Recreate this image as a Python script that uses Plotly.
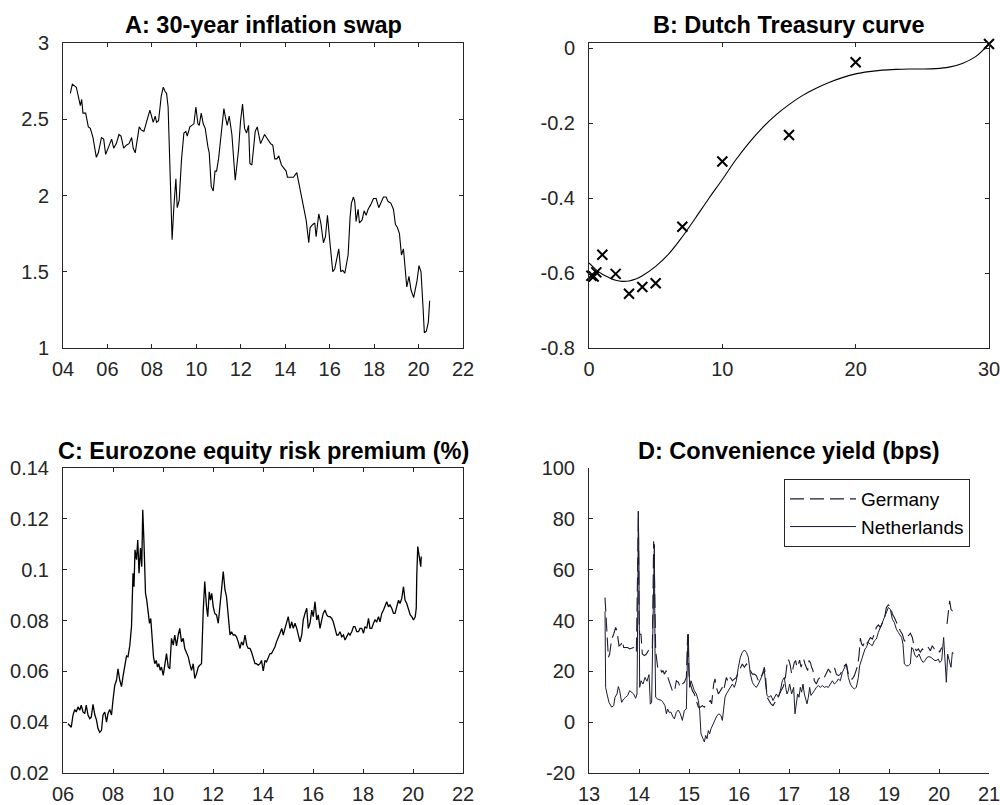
import plotly.graph_objects as go

# ---------------- Panel A: 30-year inflation swap ----------------
a_years = [2004.33, 2004.42, 2004.60, 2004.72, 2004.78, 2004.84, 2004.90, 2005.02, 2005.14, 2005.23,
           2005.35, 2005.50, 2005.59, 2005.73, 2005.83, 2005.92, 2006.04, 2006.19, 2006.28, 2006.40,
           2006.52, 2006.61, 2006.73, 2006.85, 2006.97, 2007.09, 2007.16, 2007.25, 2007.43, 2007.52,
           2007.64, 2007.91, 2008.06, 2008.15, 2008.21, 2008.30, 2008.42, 2008.51, 2008.60, 2008.66,
           2008.73, 2008.81, 2008.91, 2008.99, 2009.08, 2009.14, 2009.23, 2009.33, 2009.44, 2009.53,
           2009.59, 2009.71, 2009.83, 2009.89, 2009.98, 2010.07, 2010.13, 2010.22, 2010.31, 2010.40,
           2010.52, 2010.58, 2010.67, 2010.76, 2010.84, 2010.91, 2011.00, 2011.12, 2011.24, 2011.30,
           2011.39, 2011.48, 2011.60, 2011.75, 2011.84, 2011.90, 2011.99, 2012.08, 2012.17, 2012.26,
           2012.35, 2012.41, 2012.50, 2012.65, 2012.74, 2012.89, 2013.07, 2013.19, 2013.34, 2013.44,
           2013.53, 2013.62, 2013.71, 2013.83, 2013.92, 2014.04, 2014.10, 2014.28, 2014.37, 2014.52,
           2014.64, 2014.74, 2014.85, 2014.94, 2015.06, 2015.12, 2015.24, 2015.33, 2015.39, 2015.51,
           2015.60, 2015.72, 2015.81, 2015.90, 2016.02, 2016.14, 2016.23, 2016.32, 2016.41, 2016.50,
           2016.59, 2016.68, 2016.83, 2016.92, 2016.98, 2017.07, 2017.13, 2017.19, 2017.28, 2017.34,
           2017.46, 2017.55, 2017.64, 2017.73, 2017.85, 2017.97, 2018.09, 2018.21, 2018.33, 2018.42,
           2018.54, 2018.63, 2018.75, 2018.87, 2018.96, 2019.05, 2019.14, 2019.23, 2019.32, 2019.41,
           2019.47, 2019.57, 2019.66, 2019.78, 2019.87, 2019.93, 2020.02, 2020.11, 2020.20, 2020.26,
           2020.35, 2020.44, 2020.50]
a_values = [2.67, 2.73, 2.71, 2.62, 2.59, 2.63, 2.54, 2.54, 2.45, 2.44,
            2.38, 2.25, 2.28, 2.38, 2.37, 2.27, 2.32, 2.37, 2.31, 2.34,
            2.40, 2.39, 2.31, 2.33, 2.34, 2.38, 2.31, 2.28, 2.45, 2.43,
            2.42, 2.56, 2.48, 2.52, 2.48, 2.49, 2.65, 2.71, 2.68, 2.67,
            2.58, 2.23, 1.71, 1.93, 2.11, 1.92, 1.97, 2.23, 2.41, 2.42,
            2.39, 2.45, 2.46, 2.47, 2.58, 2.47, 2.46, 2.54, 2.47, 2.44,
            2.32, 2.28, 2.06, 2.03, 2.16, 2.16, 2.24, 2.42, 2.57, 2.52,
            2.46, 2.52, 2.40, 2.10, 2.23, 2.30, 2.49, 2.60, 2.44, 2.41,
            2.46, 2.21, 2.20, 2.42, 2.45, 2.34, 2.40, 2.37, 2.34, 2.33,
            2.24, 2.24, 2.26, 2.20, 2.18, 2.16, 2.12, 2.12, 2.12, 2.15,
            2.06, 1.97, 1.91, 1.84, 1.69, 1.79, 1.81, 1.82, 1.73, 1.88,
            1.82, 1.69, 1.73, 1.87, 1.68, 1.50, 1.52, 1.60, 1.65, 1.50,
            1.51, 1.49, 1.61, 1.86, 1.95, 1.99, 1.96, 1.83, 1.91, 1.82,
            1.84, 1.90, 1.87, 1.91, 1.94, 1.98, 1.98, 1.92, 1.96, 1.99,
            1.99, 1.96, 1.95, 1.91, 1.81, 1.79, 1.75, 1.61, 1.65, 1.51,
            1.40, 1.47, 1.38, 1.33, 1.40, 1.44, 1.54, 1.50, 1.27, 1.10,
            1.11, 1.17, 1.31]

# ---------------- Panel B: Dutch Treasury curve ----------------
b_obs_maturity = [0.18, 0.35, 0.55, 1.0, 2.0, 3.0, 4.0, 5.0, 7.0, 10.0, 15.0, 20.0, 30.0]
b_obs_yield = [-0.607, -0.609, -0.598, -0.551, -0.602, -0.655, -0.637, -0.627, -0.476, -0.302, -0.231, -0.037, 0.012]
b_fit_maturity = [0, 0.5, 1, 1.5, 2, 2.5, 3, 3.5, 4, 5, 6, 7, 8, 9, 10, 11, 12, 13, 14, 15,
                  16, 17, 18, 19, 20, 21, 22, 23, 24, 25, 26, 27, 28, 29, 30]
b_fit_yield = [-0.573, -0.590, -0.603, -0.612, -0.619, -0.622, -0.621, -0.616, -0.607, -0.582,
               -0.548, -0.503, -0.452, -0.400, -0.350, -0.298, -0.252, -0.212, -0.178, -0.150,
               -0.126, -0.107, -0.091, -0.078, -0.068, -0.062, -0.058, -0.056, -0.055, -0.055,
               -0.054, -0.050, -0.040, -0.022, 0.012]

# ---------------- Panel C: Eurozone equity risk premium ----------------
c_years = [2006.20, 2006.27, 2006.33, 2006.40, 2006.47, 2006.53, 2006.60, 2006.67, 2006.73, 2006.80,
           2006.87, 2006.93, 2007.00, 2007.07, 2007.13, 2007.20, 2007.27, 2007.34, 2007.40, 2007.47,
           2007.54, 2007.60, 2007.67, 2007.74, 2007.80, 2007.87, 2007.94, 2008.00, 2008.07, 2008.14,
           2008.20, 2008.27, 2008.34, 2008.40, 2008.47, 2008.54, 2008.60, 2008.67, 2008.74,
           2008.78, 2008.80, 2008.84, 2008.88, 2008.94, 2008.99, 2009.04, 2009.10, 2009.15, 2009.19,
           2009.24, 2009.30, 2009.35, 2009.40, 2009.46, 2009.51, 2009.57, 2009.62, 2009.67, 2009.73,
           2009.78, 2009.83, 2009.89, 2009.94,
           2010.01, 2010.07, 2010.14, 2010.21, 2010.27, 2010.34, 2010.41, 2010.47, 2010.54, 2010.61,
           2010.67, 2010.74, 2010.81, 2010.87, 2010.94, 2011.01, 2011.07, 2011.14, 2011.21, 2011.27,
           2011.34, 2011.41, 2011.47, 2011.54, 2011.61, 2011.67, 2011.74, 2011.79, 2011.85, 2011.90,
           2011.95, 2012.01, 2012.07, 2012.14, 2012.21, 2012.28, 2012.34, 2012.41, 2012.48, 2012.54,
           2012.61, 2012.68, 2012.74, 2012.81, 2012.88, 2012.94, 2013.01, 2013.08, 2013.14, 2013.21,
           2013.28, 2013.35, 2013.41, 2013.48, 2013.54, 2013.61, 2013.68, 2013.74, 2013.81, 2013.88,
           2013.94, 2014.01, 2014.08, 2014.14, 2014.21, 2014.28, 2014.34, 2014.41, 2014.48, 2014.54,
           2014.61, 2014.68, 2014.75, 2014.81, 2014.88, 2014.95, 2015.01, 2015.08, 2015.15, 2015.21,
           2015.28, 2015.35, 2015.41, 2015.48, 2015.55, 2015.61, 2015.68, 2015.75, 2015.81, 2015.88,
           2015.95, 2016.01, 2016.08, 2016.15, 2016.21, 2016.28, 2016.35, 2016.41, 2016.48, 2016.55,
           2016.61, 2016.68, 2016.75, 2016.81, 2016.88, 2016.95, 2017.01, 2017.08, 2017.15, 2017.22,
           2017.28, 2017.35, 2017.42, 2017.48, 2017.55, 2017.62, 2017.68, 2017.75, 2017.82, 2017.88,
           2017.95, 2018.02, 2018.08, 2018.15, 2018.22, 2018.28, 2018.35, 2018.42, 2018.48, 2018.55,
           2018.62, 2018.68, 2018.75, 2018.82, 2018.88, 2018.95, 2019.02, 2019.08, 2019.15, 2019.22,
           2019.28, 2019.35, 2019.42, 2019.48, 2019.55, 2019.62, 2019.68, 2019.75, 2019.82, 2019.89,
           2019.95, 2020.02, 2020.09, 2020.13, 2020.15, 2020.19, 2020.23, 2020.27, 2020.31, 2020.33]
c_values = [0.0394, 0.0387, 0.0380, 0.0428, 0.0450, 0.0440, 0.0460, 0.0447, 0.0467, 0.0440,
            0.0434, 0.0467, 0.0428, 0.0414, 0.0420, 0.0470, 0.0430, 0.0408, 0.0375, 0.0360,
            0.0368, 0.0428, 0.0440, 0.0400, 0.0434, 0.0450, 0.0428, 0.0487, 0.0545, 0.0565,
            0.0610, 0.0565, 0.0540, 0.0580, 0.0630, 0.0660, 0.0657, 0.0700, 0.0776,
            0.0880, 0.0986, 0.0933, 0.1078, 0.1039, 0.1117, 0.0986, 0.1085, 0.1012, 0.1236,
            0.1104, 0.0907, 0.0880, 0.0841, 0.0789, 0.0808, 0.0697, 0.0657, 0.0630, 0.0643,
            0.0617, 0.0630, 0.0604, 0.0617,
            0.0584, 0.0630, 0.0670, 0.0617, 0.0610, 0.0730, 0.0703, 0.0743, 0.0700, 0.0743,
            0.0769, 0.0716, 0.0730, 0.0690, 0.0670, 0.0657, 0.0630, 0.0604, 0.0630, 0.0572,
            0.0590, 0.0617, 0.0624, 0.0630, 0.0841, 0.0953, 0.0854, 0.0815, 0.0913, 0.0880,
            0.0907, 0.0854, 0.0828, 0.0822, 0.0789, 0.0880, 0.0920, 0.0993, 0.0920, 0.0894,
            0.0802, 0.0743, 0.0756, 0.0743, 0.0743, 0.0736, 0.0716, 0.0690, 0.0716, 0.0703,
            0.0743, 0.0703, 0.0690, 0.0690, 0.0676, 0.0650, 0.0630, 0.0630, 0.0624, 0.0630,
            0.0643, 0.0602, 0.0643, 0.0637, 0.0657, 0.0670, 0.0670, 0.0683, 0.0697, 0.0716,
            0.0730, 0.0750, 0.0769, 0.0743, 0.0769, 0.0789, 0.0815, 0.0769, 0.0795, 0.0769,
            0.0789, 0.0769, 0.0743, 0.0716, 0.0743, 0.0802, 0.0828, 0.0848, 0.0769, 0.0789,
            0.0841, 0.0815, 0.0874, 0.0802, 0.0822, 0.0769, 0.0802, 0.0828, 0.0841, 0.0822,
            0.0815, 0.0815, 0.0808, 0.0795, 0.0769, 0.0743, 0.0743, 0.0756, 0.0736, 0.0743,
            0.0723, 0.0736, 0.0750, 0.0743, 0.0756, 0.0776, 0.0776, 0.0756, 0.0756, 0.0769,
            0.0769, 0.0750, 0.0776, 0.0769, 0.0808, 0.0769, 0.0769, 0.0789, 0.0802, 0.0795,
            0.0815, 0.0795, 0.0828, 0.0841, 0.0854, 0.0874, 0.0854, 0.0861, 0.0848, 0.0828,
            0.0828, 0.0861, 0.0880, 0.0867, 0.0887, 0.0933, 0.0880, 0.0867, 0.0841, 0.0822,
            0.0815, 0.0802, 0.0815, 0.0848, 0.0973, 0.1091, 0.1065, 0.1039, 0.1012, 0.1052]

# ---------------- Panel D: Convenience yield ----------------
nl_years = [2013.32, 2013.333, 2013.36, 2013.40, 2013.453, 2013.493, 2013.52, 2013.56, 2013.587, 2013.613,
            2013.653, 2013.693, 2013.733, 2013.773, 2013.813, 2013.853, 2013.893, 2013.933, 2013.96, 2013.973,
            2013.987, 2014.00, 2014.013, 2014.04, 2014.08, 2014.12, 2014.16, 2014.20, 2014.227, 2014.253,
            2014.28, 2014.293, 2014.307, 2014.32, 2014.333, 2014.373, 2014.413, 2014.453, 2014.48, 2014.52,
            2014.547, 2014.573, 2014.60, 2014.64, 2014.68, 2014.707, 2014.747, 2014.787, 2014.827, 2014.867,
            2014.907, 2014.947, 2014.973, 2014.987, 2015.00, 2015.013, 2015.04, 2015.067, 2015.107, 2015.147,
            2015.187, 2015.213, 2015.24, 2015.28, 2015.307, 2015.333, 2015.36, 2015.387, 2015.413, 2015.44,
            2015.48, 2015.52, 2015.56, 2015.60, 2015.64, 2015.667, 2015.693, 2015.72, 2015.747, 2015.787,
            2015.827, 2015.867, 2015.907, 2015.947, 2015.987, 2016.027, 2016.067, 2016.107, 2016.147, 2016.187,
            2016.227, 2016.267, 2016.307, 2016.347, 2016.387, 2016.427, 2016.467, 2016.507, 2016.533, 2016.56,
            2016.60, 2016.64, 2016.68, 2016.72, 2016.747, 2016.787, 2016.827, 2016.867, 2016.907, 2016.933,
            2016.96, 2016.987, 2017.013, 2017.053, 2017.093, 2017.12, 2017.147, 2017.173, 2017.20, 2017.227,
            2017.253, 2017.28, 2017.307, 2017.333, 2017.36, 2017.387, 2017.413, 2017.44, 2017.467, 2017.507,
            2017.547, 2017.587, 2017.627, 2017.667, 2017.707, 2017.747, 2017.787, 2017.827, 2017.867, 2017.907,
            2017.947, 2017.987, 2018.027, 2018.067, 2018.107, 2018.147, 2018.187, 2018.227, 2018.267, 2018.307,
            2018.347, 2018.387, 2018.413, 2018.453, 2018.48, 2018.52, 2018.547, 2018.587, 2018.627, 2018.667,
            2018.707, 2018.747, 2018.787, 2018.827, 2018.867, 2018.907, 2018.947, 2018.987, 2019.027, 2019.067,
            2019.107, 2019.147, 2019.187, 2019.227, 2019.253, 2019.28, 2019.307, 2019.347, 2019.387, 2019.427,
            2019.453, 2019.48, 2019.52, 2019.56, 2019.60, 2019.64, 2019.68, 2019.72, 2019.76, 2019.80,
            2019.84, 2019.88, 2019.92, 2019.96, 2019.987, 2020.013, 2020.053, 2020.093, 2020.12, 2020.147,
            2020.173, 2020.213, 2020.24, 2020.267, 2020.293]
nl_values = [43.5, 13.7, 11.1, 7.8, 5.9, 6.5, 9.8, 11.1, 14.0, 12.4,
             7.8, 9.1, 9.8, 10.5, 12.4, 11.8, 11.1, 9.4, 11.1, 41.2,
             83.0, 60.8, 13.7, 16.3, 15.0, 17.6, 16.1, 18.7, 7.1, 7.8,
             47.7, 69.9, 69.9, 28.1, 9.8, 9.1, 8.9, 8.5, 7.8, 6.5,
             3.3, 5.2, 3.9, 3.9, 2.0, 1.3, 3.9, 4.8, 3.3, 0.7,
             4.6, 5.2, 29.4, 34.6, 21.6, 13.7, 16.3, 14.4, 12.4, 11.1,
             8.5, 4.6, -4.6, -6.5, -7.8, -5.2, -6.5, -3.3, -4.6, -2.6,
             -0.7, 0.7, 2.6, 3.3, 2.6, 0.7, 5.2, 9.8, 11.1, 12.4,
             13.7, 15.0, 13.7, 16.3, 21.6, 25.5, 27.5, 28.4, 27.5, 25.5,
             18.9, 15.7, 14.4, 13.7, 15.0, 17.0, 18.9, 20.3, 15.0, 10.5,
             9.8, 10.5, 8.5, 9.8, 11.1, 9.8, 12.4, 16.3, 17.6, 13.7,
             11.1, 12.4, 15.0, 11.1, 13.7, 3.3, 8.5, 11.1, 9.8, 13.7,
             11.8, 15.0, 11.1, 8.5, 7.2, 9.8, 13.7, 10.5, 11.1, 12.4,
             13.7, 14.4, 13.7, 14.4, 13.7, 14.0, 13.7, 15.0, 16.3, 15.0,
             15.7, 17.0, 16.3, 19.6, 21.6, 22.9, 17.6, 15.0, 13.7, 13.1,
             13.7, 17.6, 22.2, 24.8, 26.8, 28.8, 29.4, 31.4, 30.6, 30.1,
             32.0, 32.7, 35.3, 37.3, 39.2, 41.2, 43.8, 45.1, 44.4, 40.5,
             39.2, 36.6, 35.3, 34.0, 33.3, 30.7, 22.9, 22.2, 22.2, 22.9,
             29.4, 28.8, 26.2, 25.5, 26.8, 24.8, 23.5, 24.2, 25.5, 25.8,
             25.5, 24.8, 24.2, 24.4, 24.8, 23.5, 24.2, 33.3, 22.9, 15.7,
             26.8, 22.9, 21.6, 27.5, 27.1]

de_years = [2013.32, 2013.347, 2013.387, 2013.413, 2013.453, 2013.493, 2013.533, 2013.56, 2013.60, 2013.64,
            2013.667, 2013.693, 2013.733, 2013.773, 2013.813, 2013.853, 2013.893, 2013.92, 2013.947, 2013.973,
            2013.987, 2014.00, 2014.013, 2014.04, 2014.067, 2014.107, 2014.147, 2014.187, 2014.213, 2014.267,
            2014.293, 2014.307, 2014.32, 2014.333, 2014.373, 2014.413, 2014.453, 2014.48, 2014.507, 2014.547,
            2014.587, 2014.627, 2014.667, 2014.707, 2014.747, 2014.787, 2014.827, 2014.867, 2014.907, 2014.947,
            2014.973, 2015.00, 2015.027, 2015.067, 2015.107, 2015.147, 2015.187, 2015.227, 2015.267, 2015.307,
            2015.347, 2015.387, 2015.427, 2015.453, 2015.493, 2015.52, 2015.547, 2015.587, 2015.627, 2015.667,
            2015.693, 2015.72, 2015.747, 2015.787, 2015.827, 2015.867, 2015.907, 2015.947, 2015.987, 2016.027,
            2016.067, 2016.107, 2016.147, 2016.187, 2016.227, 2016.267, 2016.307, 2016.347, 2016.387, 2016.427,
            2016.467, 2016.507, 2016.533, 2016.56, 2016.60, 2016.64, 2016.68, 2016.72, 2016.76, 2016.80,
            2016.84, 2016.88, 2016.92, 2016.947, 2016.973, 2017.00, 2017.027, 2017.053, 2017.08, 2017.107,
            2017.133, 2017.16, 2017.187, 2017.213, 2017.24, 2017.267, 2017.293, 2017.32, 2017.347, 2017.373,
            2017.40, 2017.427, 2017.453, 2017.48, 2017.507, 2017.547, 2017.587, 2017.627, 2017.667, 2017.707,
            2017.747, 2017.787, 2017.827, 2017.867, 2017.907, 2017.947, 2017.987, 2018.027, 2018.067, 2018.107,
            2018.147, 2018.187, 2018.227, 2018.267, 2018.307, 2018.333, 2018.373, 2018.40, 2018.427, 2018.453,
            2018.48, 2018.52, 2018.547, 2018.587, 2018.627, 2018.667, 2018.707, 2018.747, 2018.787, 2018.827,
            2018.867, 2018.907, 2018.947, 2018.987, 2019.027, 2019.067, 2019.107, 2019.147, 2019.187, 2019.227,
            2019.267, 2019.307, 2019.347, 2019.387, 2019.427, 2019.467, 2019.507, 2019.547, 2019.587, 2019.627,
            2019.667, 2019.707, 2019.747, 2019.787, 2019.827, 2019.867, 2019.907, 2019.947, 2019.987, 2020.013,
            2020.053, 2020.10, 2020.16, 2020.187, 2020.213, 2020.24, 2020.267, 2020.293]
de_values = [49.0, 41.0, 25.5, 26.8, 32.7, 34.6, 37.3, 35.9, 30.0, 30.6,
             32.0, 29.4, 29.4, 29.4, 28.8, 29.2, 29.4, 28.1, 27.5, 60.8,
             83.0, 41.0, 34.6, 34.6, 26.8, 26.2, 26.8, 28.1, 27.5, 29.4,
             71.2, 60.8, 42.5, 28.1, 21.6, 22.2, 19.6, 20.3, 18.9, 20.3,
             17.0, 15.0, 12.4, 11.8, 16.3, 15.7, 13.7, 15.0, 15.7, 17.6,
             34.6, 18.9, 15.0, 12.4, 11.1, 8.5, 5.9, 5.9, 6.5, 5.9,
             7.2, 7.8, 8.5, 7.2, 15.0, 17.0, 13.7, 11.1, 12.4, 13.7,
             12.4, 15.0, 17.6, 15.7, 17.6, 16.3, 17.0, 17.6, 19.6, 21.6,
             22.9, 21.6, 22.9, 21.6, 20.3, 18.9, 18.9, 18.3, 16.3, 17.6,
             18.9, 21.6, 17.6, 9.8, 8.5, 7.2, 6.5, 7.8, 9.1, 10.5,
             12.4, 13.7, 16.3, 21.6, 24.8, 24.2, 22.2, 18.9, 20.9, 23.5,
             24.2, 21.6, 22.9, 24.4, 21.6, 22.9, 24.8, 22.9, 21.6, 20.3,
             24.2, 23.5, 21.6, 20.3, 16.3, 15.0, 17.0, 17.6, 18.3, 17.6,
             19.6, 20.9, 19.6, 20.5, 21.6, 18.9, 18.3, 18.9, 20.3, 22.2,
             22.9, 18.9, 17.0, 17.0, 18.3, 20.3, 22.2, 26.2, 33.1, 30.7,
             30.1, 31.8, 30.7, 31.8, 33.3, 32.7, 34.6, 37.3, 38.3, 37.3,
             39.2, 40.5, 45.1, 46.1, 45.8, 42.5, 41.2, 39.2, 37.9, 35.9,
             34.6, 32.0, 32.0, 34.0, 35.0, 33.3, 29.4, 28.1, 28.8, 27.5,
             28.8, 28.1, 28.8, 29.4, 28.1, 30.1, 28.8, 28.1, 28.5, 27.5,
             29.4, None, 38.6, 43.8, 47.7, 44.4, 43.8, 44.1]

# ---------------- tick labels ----------------
a_ticks = [2004, 2006, 2008, 2010, 2012, 2014, 2016, 2018, 2020, 2022]
a_ticktext = ["04", "06", "08", "10", "12", "14", "16", "18", "20", "22"]
c_ticks = [2006, 2008, 2010, 2012, 2014, 2016, 2018, 2020, 2022]
c_ticktext = ["06", "08", "10", "12", "14", "16", "18", "20", "22"]
d_ticks = [2013, 2014, 2015, 2016, 2017, 2018, 2019, 2020, 2021]
d_ticktext = ["13", "14", "15", "16", "17", "18", "19", "20", "21"]

titles = ["A: 30-year inflation swap", "B: Dutch Treasury curve",
          "C: Eurozone equity risk premium (%)", "D: Convenience yield (bps)"]

FONT = "Liberation Sans, Arial, Helvetica, sans-serif"
AX = "#262626"
LINE_D = "#1b1b33"
TICK_SIZE = 20
TITLE_SIZE = 23.5

fig = go.Figure()
fig.add_trace(go.Scatter(x=a_years, y=a_values, mode="lines", line=dict(color="black", width=1.1),
                         xaxis="x", yaxis="y", showlegend=False))
fig.add_trace(go.Scatter(x=b_fit_maturity, y=b_fit_yield, mode="lines", line=dict(color="black", width=1.1, shape="spline"),
                         xaxis="x2", yaxis="y2", showlegend=False))
fig.add_trace(go.Scatter(x=b_obs_maturity, y=b_obs_yield, mode="markers",
                         marker=dict(symbol="x-thin", size=10, color="black", line=dict(width=2, color="black")),
                         xaxis="x2", yaxis="y2", showlegend=False, cliponaxis=False))
fig.add_trace(go.Scatter(x=c_years, y=c_values, mode="lines", line=dict(color="black", width=1.3),
                         xaxis="x3", yaxis="y3", showlegend=False))
fig.add_trace(go.Scatter(x=de_years, y=de_values, mode="lines", name="Germany",
                         line=dict(color=LINE_D, width=1.1, dash="14px,6px"),
                         xaxis="x4", yaxis="y4", connectgaps=False))
fig.add_trace(go.Scatter(x=nl_years, y=nl_values, mode="lines", name="Netherlands",
                         line=dict(color=LINE_D, width=1.0),
                         xaxis="x4", yaxis="y4"))

W, H = 1000, 805
left_dom = [63 / W, 463 / W]
right_dom = [589 / W, 989 / W]
top_dom = [1 - 348 / H, 1 - 43 / H]
bot_dom = [1 - 773 / H, 1 - 468 / H]


def xax(dom, rng, tv, tt, anchor, box=True):
    return dict(domain=dom, range=rng, tickvals=tv, ticktext=tt, anchor=anchor, automargin=False,
                showline=True, linecolor=AX, linewidth=1, mirror="ticks" if box else False,
                ticks="inside", ticklen=4, tickcolor=AX, showgrid=False, zeroline=False,
                tickfont=dict(family=FONT, size=TICK_SIZE, color=AX), ticklabelstandoff=3,
                ticklabeloverflow="allow")


def yax(dom, rng, tv, tt, anchor, box=True):
    return dict(domain=dom, range=rng, tickvals=tv, ticktext=tt, anchor=anchor, automargin=False,
                showline=True, linecolor=AX, linewidth=1, mirror="ticks" if box else False,
                ticks="inside", ticklen=4, tickcolor=AX, showgrid=False, zeroline=False,
                tickfont=dict(family=FONT, size=TICK_SIZE, color=AX), ticklabelstandoff=9,
                ticklabeloverflow="allow")


fig.update_layout(
    width=W, height=H, margin=dict(l=0, r=0, t=0, b=0, autoexpand=False),
    paper_bgcolor="white", plot_bgcolor="white",
    xaxis=xax(left_dom, [2004, 2022], a_ticks, a_ticktext, "y"),
    yaxis=yax(top_dom, [1, 3], [1, 1.5, 2, 2.5, 3], ["1", "1.5", "2", "2.5", "3"], "x"),
    xaxis2=xax(right_dom, [0, 30], [0, 10, 20, 30], ["0", "10", "20", "30"], "y2"),
    yaxis2=yax(top_dom, [-0.8, 0.0145], [-0.8, -0.6, -0.4, -0.2, 0], ["-0.8", "-0.6", "-0.4", "-0.2", "0"], "x2"),
    xaxis3=xax(left_dom, [2006, 2022], c_ticks, c_ticktext, "y3"),
    yaxis3=yax(bot_dom, [0.02, 0.14], [0.02, 0.04, 0.06, 0.08, 0.1, 0.12, 0.14],
               ["0.02", "0.04", "0.06", "0.08", "0.1", "0.12", "0.14"], "x3"),
    xaxis4=xax(right_dom, [2013, 2021], d_ticks, d_ticktext, "y4", box=False),
    yaxis4=yax(bot_dom, [-20, 100], [-20, 0, 20, 40, 60, 80, 100],
               ["-20", "0", "20", "40", "60", "80", "100"], "x4", box=False),
    legend=dict(x=784 / W, y=1 - 479 / H, xanchor="left", yanchor="top",
                bgcolor="white", bordercolor=AX, borderwidth=1,
                font=dict(family=FONT, size=19, color="black"),
                itemwidth=66, tracegroupgap=0),
    showlegend=True,
)

title_pos = [((63 + 463) / 2 / W, 1 - 25 / H), ((589 + 989) / 2 / W, 1 - 25 / H),
             ((63 + 463) / 2 / W, 1 - 451 / H), ((589 + 989) / 2 / W, 1 - 451 / H)]
for t, (px, py) in zip(titles, title_pos):
    fig.add_annotation(text="<b>%s</b>" % t, x=px, y=py, xref="paper", yref="paper",
                       xanchor="center", yanchor="middle", showarrow=False,
                       font=dict(family=FONT, size=TITLE_SIZE, color="black"))

fig.write_html("out.html", config={"displayModeBar": False},
               post_script="document.body.style.margin='0';document.body.style.overflow='hidden';")
